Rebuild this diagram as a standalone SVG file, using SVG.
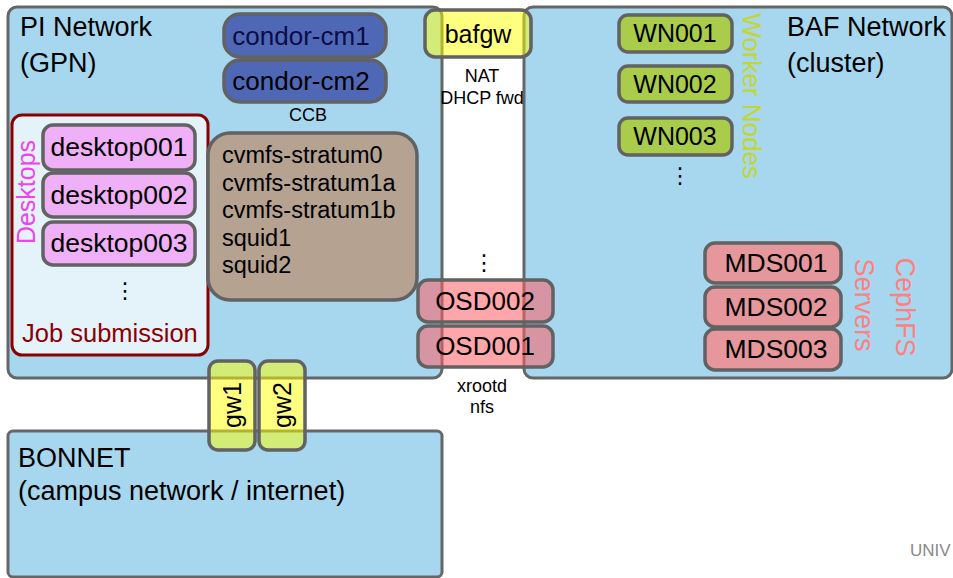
<svg xmlns="http://www.w3.org/2000/svg" width="953" height="578" viewBox="0 0 953 578">
<style>
text{font-family:"Liberation Sans","DejaVu Sans",sans-serif;fill:#000}
.net{fill:#a7d7ee;stroke:#666;stroke-width:3}
.node{stroke:#626262;stroke-width:3.5}
.big{font-size:27px}
.n{font-size:25px;text-anchor:middle}
.sm{font-size:18px;text-anchor:middle}
.dots{font-family:"DejaVu Sans",sans-serif;font-size:22px;text-anchor:middle}
.rot{text-anchor:middle;dominant-baseline:central}
.ylw{fill:#ffff00;fill-opacity:0.5}
.red{fill:#ff5c66;fill-opacity:0.55}
</style>
<rect width="953" height="578" fill="#fff"/>
<g id="pi-network">
<rect class="net" x="8" y="7" width="434" height="371" rx="9"/>
<text class="big" x="20" y="36">PI Network</text>
<text class="big" x="20" y="72">(GPN)</text>
</g>
<g id="baf-network">
<rect class="net" x="524" y="7" width="428" height="371" rx="9"/>
<text class="big" x="787" y="36">BAF Network</text>
<text class="big" x="787" y="72">(cluster)</text>
</g>
<g id="bonnet">
<rect class="net" x="8" y="431" width="434" height="146" rx="5"/>
<text class="big" x="18" y="467">BONNET</text>
<text class="big" x="18" y="500">(campus network / internet)</text>
</g>
<g id="condor-cm1">
<rect class="node" x="224" y="14" width="162" height="43" rx="16" fill="#4f68b6"/>
<text class="n" x="301" y="45" style="font-size:26px;fill:#0c0c48">condor-cm1</text>
</g>
<g id="condor-cm2">
<rect class="node" x="224" y="60" width="162" height="42" rx="16" fill="#4f68b6"/>
<text class="n" x="301" y="90" style="font-size:26px">condor-cm2</text>
<text class="sm" x="308" y="121">CCB</text>
</g>
<g id="desktops">
<rect x="12" y="115" width="196" height="240" rx="10" fill="#e4f2fa" stroke="#8b0000" stroke-width="3"/>
<text class="rot" x="26" y="192" transform="rotate(-90 26 192)" style="font-size:25px;fill:#f040f0">Desktops</text>
<text class="dots" x="125" y="298">⋮</text>
<text x="22" y="342" style="font-size:25.5px;fill:#8b0000">Job submission</text>
</g>
<g id="desktop001">
<rect class="node" x="43" y="125" width="152" height="45" rx="10" fill="#f0b0f8"/>
<text class="n" x="119" y="156" style="font-size:26.5px">desktop001</text>
</g>
<g id="desktop002">
<rect class="node" x="43" y="173" width="152" height="44" rx="10" fill="#f0b0f8"/>
<text class="n" x="119" y="204" style="font-size:26.5px">desktop002</text>
</g>
<g id="desktop003">
<rect class="node" x="43" y="222" width="152" height="43" rx="10" fill="#f0b0f8"/>
<text class="n" x="119" y="252" style="font-size:26.5px">desktop003</text>
</g>
<g id="cvmfs">
<rect class="node" x="208" y="133" width="209" height="167" rx="22" fill="#b5a291"/>
<text x="222" y="163" style="font-size:23.5px">cvmfs-stratum0</text>
<text x="222" y="191" style="font-size:23.5px">cvmfs-stratum1a</text>
<text x="222" y="218" style="font-size:23.5px">cvmfs-stratum1b</text>
<text x="222" y="246" style="font-size:23.5px">squid1</text>
<text x="222" y="273" style="font-size:23.5px">squid2</text>
</g>
<g id="wn001">
<rect class="node" x="619" y="15" width="113" height="37" rx="9" fill="#a9cc4a"/>
<text class="n" x="675" y="42">WN001</text>
</g>
<g id="wn002">
<rect class="node" x="619" y="66" width="113" height="36" rx="9" fill="#a9cc4a"/>
<text class="n" x="675" y="93">WN002</text>
</g>
<g id="wn003">
<rect class="node" x="619" y="118" width="113" height="37" rx="9" fill="#a9cc4a"/>
<text class="n" x="675" y="145">WN003</text>
<text class="dots" x="680" y="183">⋮</text>
<text class="rot" x="752" y="96" transform="rotate(90 752 96)" style="font-size:26px;fill:#c2d62e">Worker Nodes</text>
</g>
<g id="mds001">
<rect class="node" x="705" y="243" width="136" height="40" rx="10" fill="#e5979c"/>
<text class="n" x="776" y="272" style="font-size:26.5px">MDS001</text>
</g>
<g id="mds002">
<rect class="node" x="705" y="287" width="136" height="40" rx="10" fill="#e5979c"/>
<text class="n" x="776" y="316" style="font-size:26.5px">MDS002</text>
</g>
<g id="mds003">
<rect class="node" x="705" y="329" width="136" height="41" rx="10" fill="#e5979c"/>
<text class="n" x="776" y="358" style="font-size:26.5px">MDS003</text>
<text class="rot" x="864" y="305" transform="rotate(90 864 305)" style="font-size:27px;fill:#ff8080">Servers</text>
<text class="rot" x="905" y="307" transform="rotate(90 905 307)" style="font-size:27px;fill:#ff8080">CephFS</text>
</g>
<g id="bafgw">
<rect class="node ylw" x="425" y="10" width="106" height="47" rx="10"/>
<text class="n" x="478" y="43">bafgw</text>
<text class="sm" x="482" y="82">NAT</text>
<text class="sm" x="482" y="104">DHCP fwd</text>
<text class="dots" x="484" y="270">⋮</text>
</g>
<g id="osd002">
<rect class="node red" x="418" y="280" width="135" height="42" rx="10"/>
<text class="n" x="485" y="310" style="font-size:26px">OSD002</text>
</g>
<g id="osd001">
<rect class="node red" x="418" y="326" width="135" height="41" rx="10"/>
<text class="n" x="485" y="355" style="font-size:26px">OSD001</text>
<text class="sm" x="482" y="392">xrootd</text>
<text class="sm" x="482" y="413">nfs</text>
</g>
<g id="gw1">
<rect class="node ylw" x="209" y="361" width="46" height="89" rx="9"/>
<text class="rot" x="232" y="405" transform="rotate(-90 232 405)" style="font-size:25px">gw1</text>
</g>
<g id="gw2">
<rect class="node ylw" x="259" y="361" width="46" height="89" rx="9"/>
<text class="rot" x="282" y="405" transform="rotate(-90 282 405)" style="font-size:25px">gw2</text>
</g>
<g id="connectors"></g>
<text x="910" y="556" style="font-size:17px;fill:#8a8a80">UNIV</text>
</svg>
